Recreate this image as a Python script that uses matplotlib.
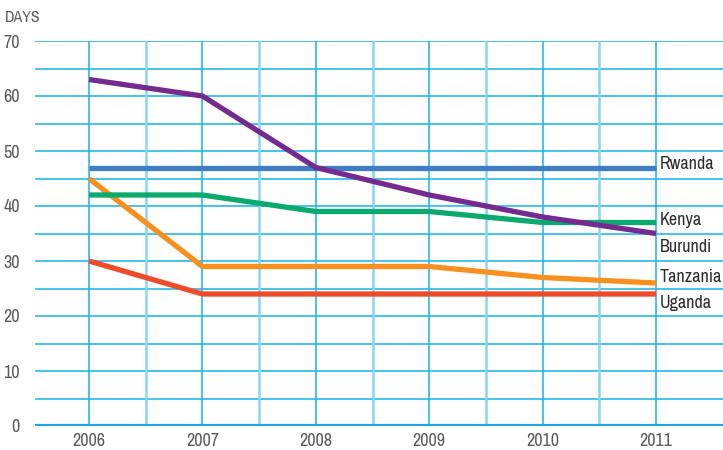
import matplotlib
matplotlib.use("Agg")
import matplotlib.pyplot as plt
from matplotlib import font_manager as fm
import numpy as np

years = [2006, 2007, 2008, 2009, 2010, 2011]
burundi = [63, 60, 47, 42, 38, 35]
rwanda = [47, 47, 47, 47, 47, 47]
kenya = [42, 42, 39, 39, 37, 37]
tanzania = [45, 29, 29, 29, 27, 26]
uganda = [30, 24, 24, 24, 24, 24]

series = [
    ("Rwanda", rwanda, "#3d7fc2", 47.6),
    ("Kenya", kenya, "#0aaa6e", 37.4),
    ("Tanzania", tanzania, "#f7901e", 27.0),
    ("Uganda", uganda, "#ee4b2b", 22.3),
    ("Burundi", burundi, "#752a8f", 32.6),
]
order = ["Rwanda", "Tanzania", "Uganda", "Kenya", "Burundi"]

names = sorted({f.name for f in fm.fontManager.ttflist})
cond = [n for n in names if "Narrow" in n or "Condensed" in n]
fam = cond[0] if cond else "DejaVu Sans"
plt.rcParams['font.family'] = [fam, 'DejaVu Sans']

fig = plt.figure(figsize=(7.23, 4.5), dpi=100)
ax = fig.add_axes([35/723, 1-426/450, 1-35/723, (426-41)/450])
ax.set_xlim(2005.524, 2011.59)
ax.set_ylim(0, 70)

grid_c = "#29b6ec"
light_c = "#86d5f5"
for y in np.arange(5, 71, 5):
    ax.axhline(y, color=grid_c, lw=1.2, zorder=1)
for x in years:
    ax.axvline(x, color=grid_c, lw=1.2, zorder=1)
for x in years[:-1]:
    ax.axvline(x + 0.5, color=light_c, lw=1.8, zorder=1)
ax.axhline(0, color="#1aa7e3", lw=3, zorder=2)

for s in ax.spines.values():
    s.set_visible(False)

lookup = {n: (v, c, ly) for n, v, c, ly in series}
for n in order:
    v, c, ly = lookup[n]
    ax.plot(years, v, color=c, lw=3.8, solid_capstyle="butt", zorder=3)
for n, v, c, ly in series:
    ax.text(2011.035, ly, n, color="#2e2e2e", fontsize=13,
            va="center", ha="left", clip_on=False)

ax.set_yticks(np.arange(0, 71, 10))
ax.set_yticklabels([str(t) for t in range(0, 71, 10)])
ax.set_xticks(years)
ax.set_xticklabels([str(y) for y in years])
ax.tick_params(length=0, labelsize=13, labelcolor="#5a5a5a", pad=5)
ax.tick_params(axis="y", pad=11)
for lab in ax.get_xticklabels() + ax.get_yticklabels():
    lab.set_fontweight("light")
fig.text(5/723, 1-18/450, "DAYS", fontsize=11.5, color="#5a5a5a", va="center", ha="left",
         fontweight="light")

fig.savefig("out.png", dpi=100)
